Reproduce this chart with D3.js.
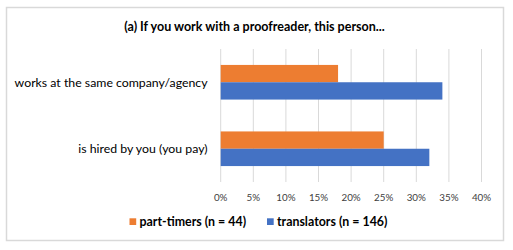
<!DOCTYPE html>
<html>
<head>
<meta charset="utf-8">
<script src="https://cdn.jsdelivr.net/npm/d3@7"></script>
<style>
  body { margin: 0; background: #fff; }
  svg { display: block; font-family: Lato, "Open Sans", sans-serif; }
</style>
</head>
<body>
<div id="chart"></div>
<script>
// chart data
const title = "(a) If you work with a proofreader, this person...";
const categories = ["works at the same company/agency", "is hired by you (you pay)"];
const seriesNames = ["part-timers (n = 44)", "translators (n = 146)"];
const partTimers = [18, 25];
const translators = [34, 32];
const ticks = [0, 5, 10, 15, 20, 25, 30, 35, 40];
const colors = ["#ED7D31", "#4472C4"];

const width = 513, height = 250;
const margin = { left: 220.7, right: 31.5, top: 49, bottom: 68 };

const svg = d3.select("#chart").append("svg")
  .attr("width", width)
  .attr("height", height);

// outer frame
svg.append("rect")
  .attr("x", 6.5).attr("y", 7.5)
  .attr("width", 497).attr("height", 233)
  .attr("fill", "#fff")
  .attr("stroke", "#d9d9d9")
  .attr("stroke-width", 1.5);

svg.append("text")
  .attr("x", 254.5).attr("y", 31)
  .attr("text-anchor", "middle")
  .style("font-size", "12.5px")
  .style("font-weight", "bold")
  .attr("fill", "#000")
  .text(title);

const x = d3.scaleLinear()
  .domain([0, 40])
  .range([margin.left, width - margin.right]);

const y = d3.scaleBand()
  .domain(categories)
  .range([margin.top, height - margin.bottom]);

const inner = d3.scaleBand()
  .domain([0, 1])
  .range([0, y.bandwidth()])
  .paddingOuter(0.92);

// gridlines
svg.append("g")
  .selectAll("line")
  .data(ticks)
  .join("line")
  .attr("x1", d => x(d)).attr("x2", d => x(d))
  .attr("y1", margin.top).attr("y2", height - margin.bottom)
  .attr("stroke", "#d9d9d9")
  .attr("stroke-width", 1);

// tick labels
svg.append("g")
  .selectAll("text")
  .data(ticks)
  .join("text")
  .attr("x", d => x(d))
  .attr("y", 200.5)
  .attr("text-anchor", "middle")
  .style("font-size", "9.8px")
  .attr("fill", "#404040")
  .text(d => d + "%");

// category labels
svg.append("g")
  .selectAll("text")
  .data(categories)
  .join("text")
  .attr("x", 207.5)
  .attr("y", d => y(d) + y.bandwidth() / 2 + 4.3)
  .attr("text-anchor", "end")
  .style("font-size", "12.3px")
  .attr("fill", "#000")
  .text(d => d);

// bars
const series = [partTimers, translators];
series.forEach((vals, si) => {
  svg.append("g")
    .selectAll("rect")
    .data(vals)
    .join("rect")
    .attr("x", x(0))
    .attr("y", (d, i) => y(categories[i]) + inner(si))
    .attr("width", d => x(d) - x(0))
    .attr("height", inner.bandwidth())
    .attr("fill", colors[si]);
});

// legend
const legendX = [129.5, 267];
const legend = svg.append("g");
seriesNames.forEach((name, i) => {
  legend.append("rect")
    .attr("x", legendX[i]).attr("y", 218.3)
    .attr("width", 6.7).attr("height", 6.7)
    .attr("fill", colors[i]);
  legend.append("text")
    .attr("x", legendX[i] + 10)
    .attr("y", 225.8)
    .style("font-size", "12.4px")
    .style("font-weight", "bold")
    .attr("fill", "#000")
    .text(name);
});
</script>
</body>
</html>
